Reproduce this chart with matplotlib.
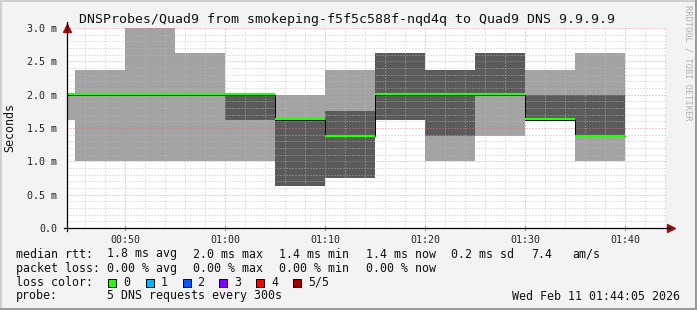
import matplotlib
matplotlib.use('Agg')
import matplotlib.pyplot as plt
from matplotlib.patches import Rectangle
from matplotlib.lines import Line2D
import numpy as np

# 5-minute bins, start time in minutes after midnight
bin_start = [40, 45, 50, 55, 60, 65, 70, 75, 80, 85, 90, 95]
# sorted ping times (ms) per bin
p1 = [1.625, 1.0, 1.0, 1.0, 1.0, 0.625, 0.75, 1.625, 1.0, 1.375, 1.625, 1.0]
p2 = [2.0, 2.0, 2.0, 2.0, 1.625, 0.625, 0.75, 1.625, 1.375, 2.0, 1.625, 1.375]
median = [2.0, 2.0, 2.0, 2.0, 2.0, 1.625, 1.375, 2.0, 2.0, 2.0, 1.625, 1.375]
p4 = [2.0, 2.0, 2.0, 2.0, 2.0, 1.625, 1.75, 2.625, 2.375, 2.625, 2.0, 2.0]
p5 = [2.0, 2.375, 3.0, 2.625, 2.0, 2.0, 2.375, 2.625, 2.375, 2.625, 2.375, 2.625]

time_ticks = [50, 60, 70, 80, 90, 100]
time_labels = ['00:50', '01:00', '01:10', '01:20', '01:30', '01:40']
y_ticks = [0.0, 0.5, 1.0, 1.5, 2.0, 2.5, 3.0]
y_labels = ['0.0', '0.5 m', '1.0 m', '1.5 m', '2.0 m', '2.5 m', '3.0 m']

loss_names = ['0', '1', '2', '3', '4', '5/5']
loss_colors = ['#26ff00', '#00b8ff', '#0059ff', '#7e00ff', '#ff0000', '#a10000']

W, H = 697, 310
mono = 'DejaVu Sans Mono'
bg = '#f3f3f3'

def fx(px):
    return px / W

def fy(py):
    return 1 - py / H

fig = plt.figure(figsize=(W / 100, H / 100), dpi=100, facecolor=bg)
ax = fig.add_axes([fx(67), fy(228), (666 - 67) / W, 200 / H])
ax.set_facecolor('white')

starts = np.array(bin_start, dtype=float)
lo = np.array(p1); q1 = np.array(p2); q3 = np.array(p4); hi = np.array(p5)
med = np.array(median)

# smoke
ax.bar(starts, hi - lo, bottom=lo, width=5, align='edge', color='#a3a3a3', linewidth=0, zorder=2)
ax.bar(starts, q3 - q1, bottom=q1, width=5, align='edge', color='#5a5a5a', linewidth=0, zorder=2)

# grid
for m in np.arange(44, 105, 2):
    if m % 10 != 0:
        ax.axvline(m, color='#bbbbbb', lw=0.72, ls=(0, (1, 2)), alpha=0.8, zorder=3)
for v in np.arange(0.1, 3.01, 0.1):
    if abs(v * 2 - round(v * 2)) > 1e-6:
        ax.axhline(v, color='#bbbbbb', lw=0.72, ls=(0, (1, 2)), alpha=0.8, zorder=3)
for m in time_ticks:
    ax.axvline(m, color='#e08080', lw=0.72, ls=(0, (1, 2)), alpha=0.8, zorder=3)
for v in y_ticks[1:]:
    ax.axhline(v, color='#e08080', lw=0.72, ls=(0, (1, 2)), alpha=0.8, zorder=3)

# median
edges = np.append(starts, starts[-1] + 5)
ax.stairs(med, edges, baseline=None, color='black', lw=0.72, zorder=4)
ax.hlines(med + 0.012, starts, starts + 5, color=loss_colors[0], lw=1.6, zorder=5)

ax.set_xlim(44.2, 104.1)
ax.set_ylim(0, 3.0)
for s in ax.spines.values():
    s.set_visible(False)
ax.set_xticks(time_ticks)
ax.set_xticklabels(time_labels)
ax.set_yticks(y_ticks)
ax.set_yticklabels(y_labels)
ax.tick_params(axis='both', length=0, labelsize=7.2, colors='#222222', pad=4)
for lab in ax.get_xticklabels() + ax.get_yticklabels():
    lab.set_fontfamily(mono)
ax.tick_params(axis='y', pad=7)
ax.tick_params(axis='x', pad=5)

# axes with arrows
fig.add_artist(Line2D([fx(67), fx(67)], [fy(231), fy(22)], color='black', lw=0.9))
fig.add_artist(Line2D([fx(64), fx(670)], [fy(228), fy(228)], color='black', lw=0.9))
ax.plot([44.2], [3.0], marker='^', ms=6, color='#a01010', clip_on=False, zorder=6)
ax.plot([104.6], [0], marker='>', ms=6, color='#a01010', clip_on=False, zorder=6)
for m in time_ticks:
    ax.plot([m, m], [-0.03, 0.03], color='#e08080', lw=0.8, clip_on=False, zorder=6)

fig.text(fx(347), fy(19), 'DNSProbes/Quad9 from smokeping-f5f5c588f-nqd4q to Quad9 DNS 9.9.9.9',
         ha='center', va='center', fontsize=9.5, family=mono, color='#111111')
fig.text(fx(10), fy(127), 'Seconds', rotation=90, ha='center', va='center',
         fontsize=8.4, family=mono, color='#111111')
fig.text(fx(688), fy(5), 'RRDTOOL / TOBI OETIKER', rotation=270, ha='center', va='top',
         fontsize=6.2, family=mono, color='#b0b0b0')

fs = 8.4
row = [254, 268.3, 282, 296]
def lt(x, r, s, ha='left'):
    fig.text(fx(x), fy(row[r]), s, ha=ha, va='center', fontsize=fs, family=mono, color='#111111')

lt(16, 0, 'median rtt:')
lt(107, 0, '1.8 ms avg')
lt(193, 0, '2.0 ms max')
lt(279, 0, '1.4 ms min')
lt(366, 0, '1.4 ms now')
lt(451, 0, '0.2 ms sd')
lt(531, 0, '7.4')
lt(572, 0, 'am/s')
lt(16, 1, 'packet loss:')
lt(107, 1, '0.00 % avg')
lt(193, 1, '0.00 % max')
lt(279, 1, '0.00 % min')
lt(366, 1, '0.00 % now')
lt(16, 2, 'loss color:')
sq_x = [108, 146, 183, 219, 256, 293]
lab_x = [123, 161, 197, 234, 271, 308]
for sx, lx, name, c in zip(sq_x, lab_x, loss_names, loss_colors):
    fig.add_artist(Rectangle((fx(sx), fy(286.5)), 8 / W, 8 / H, transform=fig.transFigure,
                             facecolor=c, edgecolor='black', lw=0.7))
    lt(lx, 2, name)
lt(16, 3, 'probe:')
lt(107, 3, '5 DNS requests every 300s')
lt(680, 3, 'Wed Feb 11 01:44:05 2026', ha='right')

# frame
fig.add_artist(Line2D([0, 1], [fy(0.5), fy(0.5)], color='#d0d0d0', lw=1.5))
fig.add_artist(Line2D([fx(0.5), fx(0.5)], [0, 1], color='#d0d0d0', lw=1.5))
fig.add_artist(Line2D([0, 1], [fy(309), fy(309)], color='#9a9a9a', lw=1.5))
fig.add_artist(Line2D([fx(696), fx(696)], [0, 1], color='#9a9a9a', lw=1.5))

fig.savefig('out.png', dpi=100, facecolor=bg)
